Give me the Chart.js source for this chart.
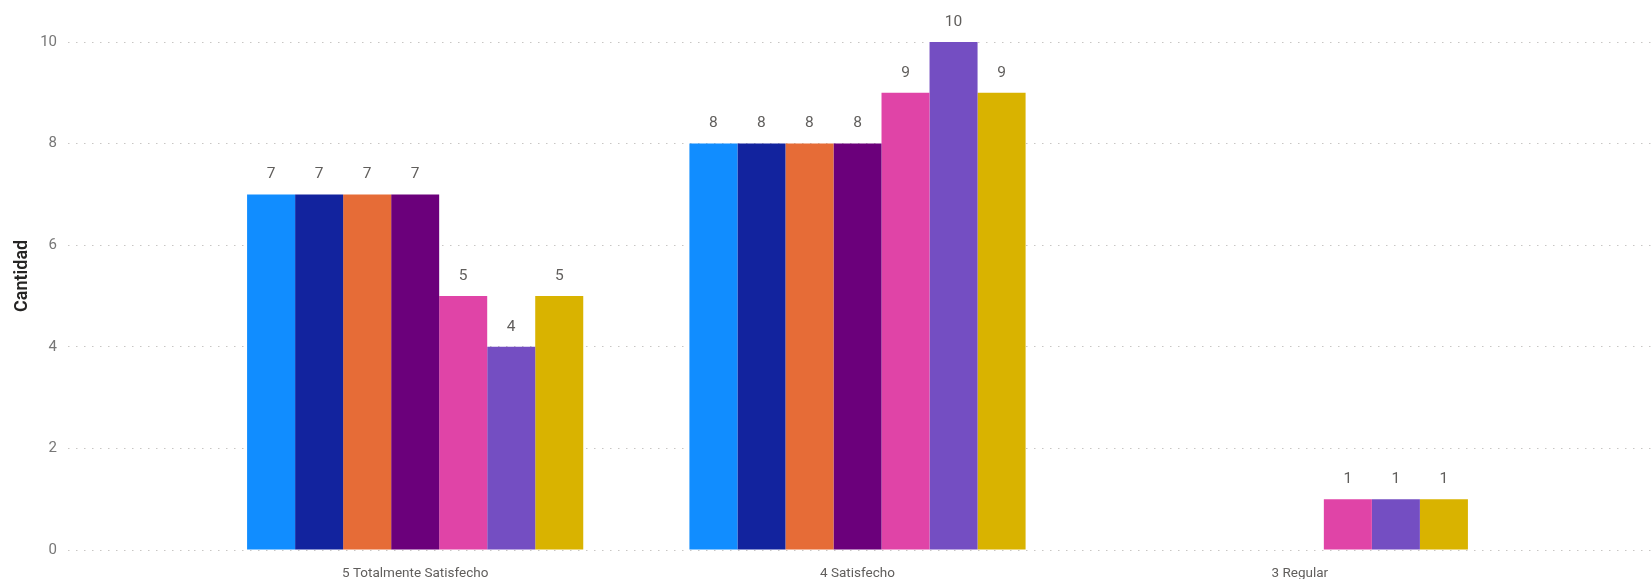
<!DOCTYPE html>
<html lang="es">
<head>
    <meta charset="UTF-8">
    <title>Cantidad por nivel de satisfacción</title>
    <script src="https://cdn.jsdelivr.net/npm/chart.js@4.4.1/dist/chart.umd.min.js"></script>
    <style>
        html, body { margin: 0; padding: 0; background: #ffffff; }
        #wrap { width: 1652px; height: 579px; position: relative; }
    </style>
</head>
<body>
    <div id="wrap">
        <canvas id="grafico"></canvas>
    </div>

    <script>
        // categorias del eje X
        const categorias = ['5 Totalmente Satisfecho', '4 Satisfecho', '3 Regular'];

        // una serie por color (sin leyenda en el original)
        const serie1 = [7, 8, null];
        const serie2 = [7, 8, null];
        const serie3 = [7, 8, null];
        const serie4 = [7, 8, null];
        const serie5 = [5, 9, 1];
        const serie6 = [4, 10, 1];
        const serie7 = [5, 9, 1];

        const nombresSeries = ['Serie 1', 'Serie 2', 'Serie 3', 'Serie 4', 'Serie 5', 'Serie 6', 'Serie 7'];
        const colores = ['#118DFF', '#12239E', '#E66C37', '#6B007B', '#E044A7', '#744EC2', '#D9B300'];

        // eje Y
        const yMin = 0;
        const yMax = 10;
        const yPaso = 2;

        const valores = [serie1, serie2, serie3, serie4, serie5, serie6, serie7];

        Chart.defaults.font.family = "'Segoe UI', Roboto, 'Open Sans', sans-serif";

        // etiquetas de valor encima de cada barra
        const etiquetasBarras = {
            id: 'etiquetasBarras',
            afterDatasetsDraw(chart) {
                const ctx = chart.ctx;
                ctx.save();
                ctx.font = "15.5px 'Segoe UI', Roboto, 'Open Sans', sans-serif";
                ctx.fillStyle = '#605E5C';
                ctx.textAlign = 'center';
                ctx.textBaseline = 'middle';
                chart.data.datasets.forEach((ds, i) => {
                    const meta = chart.getDatasetMeta(i);
                    meta.data.forEach((barra, j) => {
                        const v = ds.data[j];
                        if (v === null || v === undefined) return;
                        ctx.fillText(String(v), barra.x, barra.y - 20);
                    });
                });
                ctx.restore();
            }
        };

        const ctx = document.getElementById('grafico').getContext('2d');
        const grafico = new Chart(ctx, {
            type: 'bar',
            data: {
                labels: categorias,
                datasets: valores.map((vals, i) => ({
                    label: nombresSeries[i],
                    data: vals,
                    backgroundColor: colores[i],
                    borderWidth: 0,
                    categoryPercentage: 0.76,
                    barPercentage: 1.0
                }))
            },
            options: {
                responsive: true,
                maintainAspectRatio: false,
                animation: false,
                layout: { padding: { top: 42, left: 0, right: 0, bottom: 0 } },
                plugins: {
                    legend: { display: false },
                    tooltip: { enabled: false }
                },
                scales: {
                    x: {
                        grid: { display: false, drawTicks: false },
                        border: { display: false },
                        ticks: {
                            color: '#605E5C',
                            font: { size: 13.5 },
                            padding: 16,
                            maxRotation: 0
                        },
                        afterFit: (scale) => { scale.height = 29; }
                    },
                    y: {
                        min: yMin,
                        max: yMax,
                        position: 'left',
                        border: { display: false, dash: [1.5, 6.5] },
                        grid: {
                            color: '#C8C6C4',
                            lineWidth: 1,
                            drawTicks: true,
                            tickLength: 126,
                            tickColor: '#C8C6C4',
                            tickBorderDash: [1.5, 6.5]
                        },
                        ticks: {
                            stepSize: yPaso,
                            color: '#777777',
                            font: { size: 15 },
                            padding: 11
                        },
                        title: {
                            display: true,
                            // espacios al inicio para subir un poco el titulo, como en el original
                            text: '\u00A0'.repeat(9) + 'Cantidad',
                            color: '#252423',
                            font: { size: 18, weight: '600' },
                            padding: { top: 12, bottom: 0 }
                        },
                        afterFit: (scale) => { scale.width = 194; }
                    },
                    y2: {
                        min: yMin,
                        max: yMax,
                        position: 'right',
                        border: { display: false },
                        grid: {
                            drawOnChartArea: false,
                            drawTicks: true,
                            tickLength: 131,
                            tickColor: '#C8C6C4',
                            tickBorderDash: [1.5, 6.5]
                        },
                        ticks: { stepSize: yPaso, display: false },
                        afterFit: (scale) => { scale.width = 131; }
                    }
                }
            },
            plugins: [etiquetasBarras]
        });
    </script>
</body>
</html>
